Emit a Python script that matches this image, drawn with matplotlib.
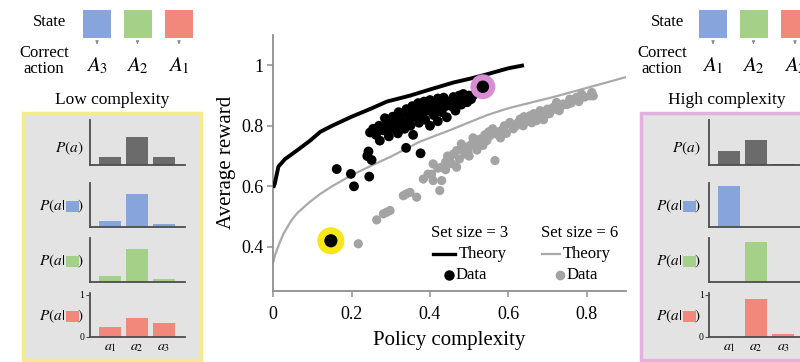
import matplotlib
matplotlib.use("Agg")
import matplotlib.pyplot as plt
from matplotlib.patches import Rectangle, FancyArrowPatch
from matplotlib.lines import Line2D

plt.rcParams['font.family'] = ['Liberation Serif', 'DejaVu Serif']
plt.rcParams['mathtext.fontset'] = 'stix'

W, H = 800, 362

# ---------------- data ----------------
theory3_x = [0.0, 0.004, 0.013, 0.03, 0.06, 0.094, 0.12, 0.15, 0.2, 0.25, 0.29, 0.35, 0.4, 0.46, 0.5, 0.545, 0.6, 0.64]
theory3_y = [0.595, 0.61, 0.665, 0.69, 0.718, 0.751, 0.78, 0.80, 0.83, 0.857, 0.88, 0.90, 0.92, 0.943, 0.955, 0.97, 0.99, 1.0]

theory6_x = [0.0, 0.004, 0.015, 0.026, 0.045, 0.06, 0.09, 0.12, 0.15, 0.2, 0.25, 0.3, 0.375, 0.45, 0.545, 0.6, 0.715, 0.8, 0.898]
theory6_y = [0.35, 0.371, 0.41, 0.443, 0.485, 0.51, 0.545, 0.575, 0.60, 0.637, 0.668, 0.698, 0.748, 0.785, 0.835, 0.858, 0.895, 0.925, 0.96]

data3_x = [0.162, 0.198, 0.206, 0.245, 0.24, 0.251, 0.243,
           0.247, 0.255, 0.262, 0.272, 0.27, 0.28, 0.285, 0.29, 0.295, 0.30,
           0.305, 0.31, 0.315, 0.318, 0.32, 0.325, 0.33, 0.335, 0.339, 0.34, 0.345, 0.348, 0.35, 0.355, 0.357, 0.36,
           0.365, 0.37, 0.372, 0.375, 0.376, 0.38, 0.385, 0.388, 0.39, 0.395, 0.40, 0.40, 0.405, 0.41, 0.415, 0.42, 0.42,
           0.425, 0.43, 0.435, 0.44, 0.443, 0.45, 0.455, 0.46, 0.465, 0.47, 0.475, 0.48, 0.485, 0.49, 0.495, 0.50, 0.505, 0.51]
data3_y = [0.657, 0.641, 0.60, 0.632, 0.70, 0.687, 0.715,
           0.778, 0.79, 0.77, 0.751, 0.80, 0.785, 0.825, 0.81, 0.765, 0.79,
           0.83, 0.815, 0.80, 0.775, 0.845, 0.83, 0.81, 0.79, 0.727, 0.855, 0.84, 0.82, 0.80, 0.865, 0.77, 0.85,
           0.83, 0.875, 0.81, 0.86, 0.709, 0.84, 0.88, 0.82, 0.865, 0.85, 0.80, 0.885, 0.87, 0.835, 0.86, 0.89, 0.815,
           0.875, 0.845, 0.893, 0.865, 0.828, 0.88, 0.865, 0.895, 0.85, 0.878, 0.9, 0.87, 0.905, 0.89, 0.878, 0.9, 0.888, 0.9]

data6_x = [0.217, 0.264, 0.281, 0.289, 0.298, 0.332, 0.34, 0.349, 0.366, 0.383, 0.404, 0.408, 0.425, 0.43,
           0.408, 0.43, 0.44, 0.451, 0.46, 0.468, 0.468, 0.475, 0.489, 0.494, 0.50, 0.502, 0.519, 0.52, 0.528,
           0.48, 0.51, 0.545, 0.54, 0.553, 0.566, 0.57, 0.56, 0.58, 0.587, 0.59, 0.604, 0.613, 0.62, 0.63, 0.638,
           0.64, 0.655, 0.66, 0.672, 0.681, 0.69, 0.698, 0.70, 0.715, 0.723, 0.73, 0.74, 0.75, 0.757, 0.76,
           0.774, 0.787, 0.809, 0.813, 0.817,
           0.395, 0.42, 0.445, 0.455, 0.485, 0.497, 0.51, 0.535, 0.55, 0.575, 0.595, 0.61, 0.625, 0.648,
           0.665, 0.685, 0.705, 0.72, 0.735, 0.765, 0.78, 0.795, 0.44, 0.53]
data6_y = [0.41, 0.489, 0.509, 0.514, 0.52, 0.569, 0.575, 0.58, 0.564, 0.624, 0.64, 0.619, 0.586, 0.619,
           0.674, 0.663, 0.68, 0.696, 0.707, 0.663, 0.718, 0.69, 0.707, 0.729, 0.70, 0.734, 0.74, 0.72, 0.756,
           0.74, 0.76, 0.751, 0.77, 0.767, 0.685, 0.773, 0.79, 0.76, 0.79, 0.80, 0.811, 0.79, 0.80, 0.822, 0.80,
           0.83, 0.833, 0.81, 0.817, 0.85, 0.82, 0.839, 0.855, 0.861, 0.877, 0.85, 0.872, 0.87, 0.888, 0.875,
           0.894, 0.905, 0.899, 0.91, 0.899,
           0.64, 0.66, 0.70, 0.675, 0.72, 0.715, 0.745, 0.735, 0.78, 0.78, 0.775, 0.80, 0.81, 0.815,
           0.84, 0.835, 0.84, 0.855, 0.865, 0.885, 0.88, 0.895, 0.655, 0.75]

low_point = (0.147, 0.42)
high_point = (0.535, 0.929)

action_labels = ['$a_1$', '$a_2$', '$a_3$']
state_colors = ['#87a5dc', '#a5d087', '#f2887c']
marginal_color = '#6b6b6b'

low_correct = ['$A_3$', '$A_2$', '$A_1$']
low_marginal = [0.18, 0.65, 0.17]
low_policy = [[0.15, 0.78, 0.07],
              [0.15, 0.78, 0.07],
              [0.24, 0.46, 0.32]]

high_correct = ['$A_1$', '$A_2$', '$A_3$']
high_marginal = [0.33, 0.58, 0.02]
high_policy = [[0.97, 0.0, 0.0],
               [0.0, 0.95, 0.0],
               [0.0, 0.89, 0.08]]


# ---------------- helpers (pixel coordinates, origin top-left) ----------------
def fx(px):
    return px / W


def fy(py):
    return 1 - py / H


def rect(x0, y0, x1, y1):
    return [fx(x0), fy(y1), (x1 - x0) / W, (y1 - y0) / H]


fig = plt.figure(figsize=(W / 100, H / 100), dpi=100)

# ---------------- main scatter ----------------
ax = fig.add_axes(rect(273.3, 35, 625.8, 290.7))
ax.plot(theory3_x, theory3_y, color='black', lw=2.8, solid_capstyle='butt', zorder=3)
ax.plot(theory6_x, theory6_y, color='#a9a9a9', lw=1.6, zorder=2)
ax.scatter(data6_x, data6_y, s=44, color='#a3a3a3', edgecolors='none', zorder=2)
ax.scatter(data3_x, data3_y, s=50, color='black', edgecolors='none', zorder=4)
ax.scatter(*low_point, s=380, color='#f5e71a', edgecolors='none', zorder=5)
ax.scatter(*low_point, s=90, color='black', edgecolors='none', zorder=6)
ax.scatter(*high_point, s=320, color='#d98ed4', edgecolors='none', zorder=5)
ax.scatter(*high_point, s=80, color='black', edgecolors='none', zorder=6)

ax.set_xlim(0, 0.9)
ax.set_ylim(0.255, 1.1)
ax.set_xticks([0, 0.2, 0.4, 0.6, 0.8])
ax.set_xticklabels(['0', '0.2', '0.4', '0.6', '0.8'])
ax.set_yticks([0.4, 0.6, 0.8, 1.0])
ax.set_yticklabels(['0.4', '0.6', '0.8', '1'])
for s in ['top', 'right']:
    ax.spines[s].set_visible(False)
for s in ['left', 'bottom']:
    ax.spines[s].set_color('#8f8f8f')
    ax.spines[s].set_linewidth(1.3)
ax.tick_params(direction='out', length=4, width=1.1, color='#8f8f8f', labelsize=13, pad=3)
ax.tick_params(axis='x', pad=7)
ax.set_xlabel('Policy complexity', fontsize=15, labelpad=6)
ax.set_ylabel('Average reward', fontsize=15, labelpad=4)

# legend
fs_leg = 12
fig.text(fx(470), fy(233), 'Set size = 3', ha='center', va='center', fontsize=fs_leg)
fig.text(fx(580), fy(233), 'Set size = 6', ha='center', va='center', fontsize=fs_leg)
fig.add_artist(Line2D([fx(433), fx(455)], [fy(254)] * 2, transform=fig.transFigure, color='black', lw=2.4))
fig.text(fx(459), fy(254), 'Theory', ha='left', va='center', fontsize=fs_leg)
fig.add_artist(Line2D([fx(449)], [fy(275)], transform=fig.transFigure, marker='o', ms=6.5, color='black', lw=0))
fig.text(fx(456), fy(275), 'Data', ha='left', va='center', fontsize=fs_leg)
fig.add_artist(Line2D([fx(542), fx(560)], [fy(254)] * 2, transform=fig.transFigure, color='#a9a9a9', lw=1.6))
fig.text(fx(563), fy(254), 'Theory', ha='left', va='center', fontsize=fs_leg)
fig.add_artist(Line2D([fx(560)], [fy(275)], transform=fig.transFigure, marker='o', ms=6, color='#a3a3a3', lw=0))
fig.text(fx(567), fy(275), 'Data', ha='left', va='center', fontsize=fs_leg)


# ---------------- side panels ----------------
def state_header(text_cx, square_x0s, correct_labels):
    fig.text(fx(text_cx + 5), fy(22), 'State', ha='center', va='center', fontsize=12)
    fig.text(fx(text_cx), fy(61), 'Correct\naction', ha='center', va='center', fontsize=12,
             linespacing=0.95)
    for x0, col, lab in zip(square_x0s, state_colors, correct_labels):
        fig.add_artist(Rectangle((fx(x0), fy(38)), 28 / W, 28 / H, transform=fig.transFigure,
                                 facecolor=col, edgecolor='none'))
        cx = x0 + 14
        fig.add_artist(FancyArrowPatch((fx(cx), fy(40)), (fx(cx), fy(47)), transform=fig.transFigure,
                                       arrowstyle='-|>', mutation_scale=4, color='#8a8a8a', lw=0.8))
        fig.text(fx(cx), fy(66), lab, ha='center', va='center', fontsize=15)


def mini_chart(x0, top, values, color, last):
    a = fig.add_axes(rect(x0, top, x0 + 95, top + 44.5))
    a.set_zorder(2)
    a.bar(range(3), values, width=0.8, color=color, edgecolor='none')
    a.set_xlim(-0.74, 2.78)
    a.set_ylim(0, 1.05)
    a.patch.set_visible(False)
    for s in ['top', 'right']:
        a.spines[s].set_visible(False)
    for s in ['left', 'bottom']:
        a.spines[s].set_color('#4d4d4d')
        a.spines[s].set_linewidth(1.3)
    if last:
        a.set_xticks(range(3))
        a.set_xticklabels(action_labels, fontsize=10)
        a.set_yticks([0, 1])
        a.set_yticklabels(['0', '1'], fontsize=7)
        a.tick_params(axis='x', length=0, pad=3)
        a.tick_params(axis='y', length=3, width=0.8, color='#4d4d4d', pad=1)
    else:
        a.set_xticks([])
        a.set_yticks([])
    return a


def row_label(x_right, yc, color):
    if color is None:
        fig.text(fx(x_right), fy(yc), '$P(a)$', ha='right', va='center', fontsize=11, zorder=3)
        return
    fig.text(fx(x_right), fy(yc), '$)$', ha='right', va='center', fontsize=11, zorder=3)
    sq_x1 = x_right - 4
    sq_x0 = sq_x1 - 13
    fig.add_artist(Rectangle((fx(sq_x0), fy(yc + 5.5)), 13 / W, 11 / H, transform=fig.transFigure,
                             facecolor=color, edgecolor='none', zorder=3))
    fig.text(fx(sq_x0 - 1), fy(yc), '$P(a|$', ha='right', va='center', fontsize=11, zorder=3)


def panel(box_x0, box_x1, edge, title, title_cx, chart_x0, label_right, marginal, policy):
    fig.add_artist(Rectangle((fx(box_x0), fy(360)), (box_x1 - box_x0) / W, (360 - 113) / H,
                             transform=fig.transFigure, facecolor='#e3e3e3', edgecolor=edge, lw=2.5,
                             zorder=-1))
    fig.text(fx(title_cx), fy(100), title, ha='center', va='center', fontsize=12.5)
    tops = [120, 182.5, 237.5, 292.5]
    mini_chart(chart_x0, tops[0], marginal, marginal_color, False)
    row_label(label_right, tops[0] + 28, None)
    for i in range(3):
        mini_chart(chart_x0, tops[i + 1], policy[i], state_colors[i], i == 2)
        row_label(label_right, tops[i + 1] + 24, state_colors[i])


state_header(44, [83, 123.5, 165], low_correct)
state_header(662, [699, 739.5, 781], high_correct)

panel(23, 200.5, '#f4ea8e', 'Low complexity', 112, 90, 83, low_marginal, low_policy)
panel(641, 830, '#e4b1de', 'High complexity', 727, 709.3, 700, high_marginal, high_policy)

fig.savefig('out.png', dpi=100)
